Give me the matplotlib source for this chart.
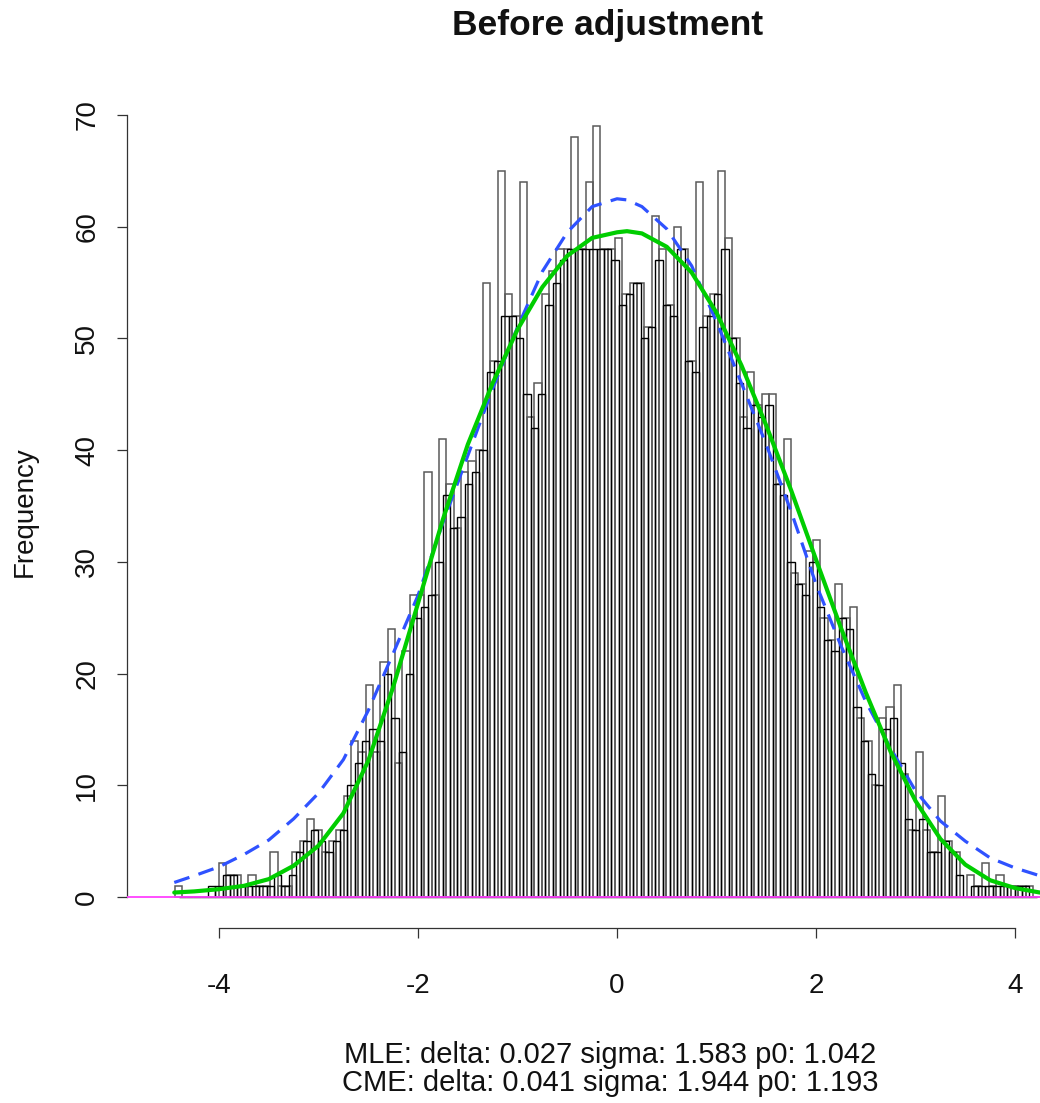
import matplotlib
matplotlib.use("Agg")
import matplotlib.pyplot as plt
import numpy as np

plt.rcParams['font.family'] = ['Liberation Sans', 'DejaVu Sans']
plt.rcParams['axes.unicode_minus'] = False

# ---------------- data ----------------
bin_start_a = -4.442
bin_start_b = -4.405
bin_width = 0.0737

counts_a = [1, 0, 0, 0, 0, 0, 3, 2, 2, 1, 2, 1, 1, 4, 1, 1, 4, 5, 7, 6,
            4, 5, 6, 9, 14, 13, 19, 13, 21, 24, 12, 22, 27, 27, 38, 27, 41, 37, 33, 38,
            39, 40, 55, 48, 65, 54, 52, 64, 43, 46, 54, 56, 58, 58, 68, 58, 64, 69, 58, 58,
            59, 54, 55, 55, 51, 61, 58, 53, 60, 58, 48, 64, 52, 54, 65, 59, 50, 43, 47, 44,
            45, 45, 37, 41, 29, 28, 31, 32, 25, 23, 28, 25, 26, 16, 14, 10, 16, 17, 19, 11,
            6, 13, 6, 4, 9, 5, 4, 0, 2, 1, 3, 1, 2, 1, 1, 1, 1, 0]

counts_b = [0, 0, 0, 0, 1, 1, 2, 2, 1, 1, 1, 1, 1, 2, 1, 2, 4, 5, 6, 5,
            4, 5, 6, 10, 12, 14, 15, 14, 20, 16, 13, 20, 25, 26, 27, 30, 36, 33, 34, 37,
            38, 40, 47, 48, 52, 52, 50, 45, 42, 45, 53, 55, 57, 58, 58, 58, 58, 58, 58, 57,
            53, 54, 55, 50, 51, 57, 53, 52, 58, 48, 47, 51, 52, 54, 58, 50, 46, 42, 44, 43,
            44, 37, 36, 30, 28, 27, 30, 26, 23, 22, 25, 24, 17, 14, 11, 10, 15, 16, 12, 7,
            6, 7, 4, 4, 5, 4, 2, 0, 1, 1, 1, 1, 1, 1, 1, 1, 0]

curve_x = [-4.45, -4.25, -4.0, -3.75, -3.5, -3.25, -3.0, -2.75, -2.5, -2.25, -2.0,
           -1.75, -1.5, -1.25, -1.0, -0.75, -0.5, -0.25, 0.0, 0.1, 0.25, 0.5, 0.75,
           1.0, 1.25, 1.5, 1.75, 2.0, 2.25, 2.5, 2.75, 3.0, 3.25, 3.5, 3.75, 4.0, 4.25]

mle_curve = [0.4, 0.5, 0.7, 1.0, 1.6, 2.8, 4.6, 7.5, 12.2, 18.8, 26.3,
             33.8, 40.5, 46.0, 50.8, 54.6, 57.4, 59.0, 59.5, 59.6, 59.4, 58.2, 55.9,
             52.3, 47.6, 42.2, 36.4, 30.2, 24.1, 18.3, 13.0, 8.6, 5.2, 2.9, 1.5, 0.8, 0.4]

cme_curve = [1.3, 1.9, 2.7, 3.8, 5.1, 7.0, 9.3, 12.3, 16.7, 21.8, 27.0,
             33.5, 39.5, 45.5, 51.0, 56.0, 59.5, 61.8, 62.5, 62.4, 61.8, 59.8, 56.5,
             51.5, 46.0, 40.5, 34.5, 28.0, 22.5, 17.5, 13.3, 9.5, 6.8, 5.0, 3.5, 2.6, 1.9]

title = "Before adjustment"
ylabel = "Frequency"
sub1 = "MLE: delta: 0.027 sigma: 1.583 p0: 1.042"
sub2 = "CME: delta: 0.041 sigma: 1.944 p0: 1.193"
xticks = [-4, -2, 0, 2, 4]
yticks = [0, 10, 20, 30, 40, 50, 60, 70]

# ---------------- figure ----------------
W, H = 1040, 1103
fig = plt.figure(figsize=(W / 100, H / 100), dpi=100)
ax = fig.add_axes([127 / W, (H - 928) / H, (W - 127) / W, (928 - 95) / H])

left_a = bin_start_a + bin_width * np.arange(len(counts_a))
left_b = bin_start_b + bin_width * np.arange(len(counts_b))

ax.bar(left_a, counts_a, width=bin_width, align='edge', fill=False,
       edgecolor='#5a5a5a', linewidth=1.1, zorder=2)
ax.bar(left_b, counts_b, width=bin_width, align='edge', fill=False,
       edgecolor='#000000', linewidth=1.0, zorder=3)

ax.axhline(0, color='#ff40ff', linewidth=1.3, zorder=4)

blue, = ax.plot(curve_x, cme_curve, color='#2f52ff', linewidth=2.3, zorder=5)
blue.set_dashes((5, 3))
ax.plot(curve_x, mle_curve, color='#00cd00', linewidth=3.0, zorder=6,
        solid_capstyle='round', solid_joinstyle='round')

ax.set_xlim(-4.925, 4.251)
ax.set_ylim(-2.775, 71.79)

for s in ['top', 'right']:
    ax.spines[s].set_visible(False)
ax.spines['left'].set_bounds(0, 70)
ax.spines['bottom'].set_bounds(-4, 4)
for s in ['left', 'bottom']:
    ax.spines[s].set_linewidth(0.9)
    ax.spines[s].set_color('#333333')

ax.set_xticks(xticks)
ax.set_yticks(yticks)
ax.tick_params(axis='both', length=7.2, width=0.9, color='#333333',
               labelsize=20, labelcolor='#111111')
ax.tick_params(axis='x', pad=25)
ax.tick_params(axis='y', pad=12)
for lab in ax.get_yticklabels():
    lab.set_rotation(90)
    lab.set_verticalalignment('center')

fig.text(608 / W, 1 - 25 / H, title, ha='center', va='center',
         fontsize=25.5, fontweight='bold', color='#111111')
fig.text(25 / W, 1 - 512 / H, ylabel, ha='center', va='center',
         rotation=90, fontsize=20, color='#111111')
fig.text(610 / W, 1 - 1055 / H, sub1, ha='center', va='center',
         fontsize=21, color='#111111')
fig.text(610 / W, 1 - 1083 / H, sub2, ha='center', va='center',
         fontsize=21, color='#111111')

fig.savefig("out.png", dpi=100)
